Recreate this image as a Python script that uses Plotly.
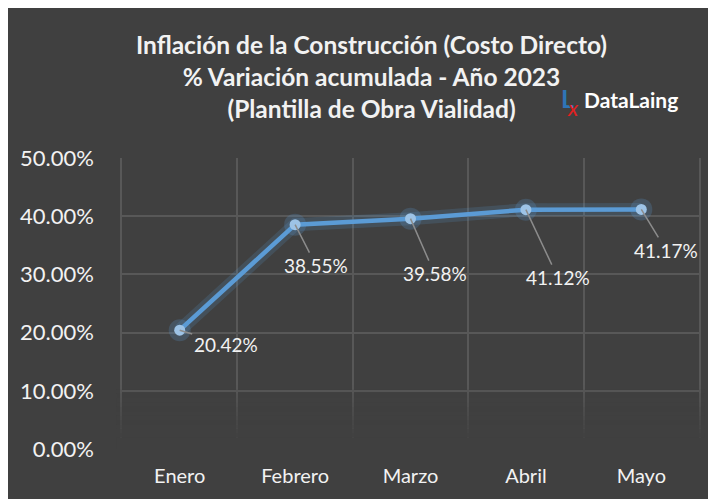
import plotly.graph_objects as go

months = ["Enero", "Febrero", "Marzo", "Abril", "Mayo"]
values = [20.42, 38.55, 39.58, 41.12, 41.17]
labels = ["20.42%", "38.55%", "39.58%", "41.12%", "41.17%"]
label_dx = [46, 21, 24, 32, 25]
label_dy = [14, 41, 55, 68, 41]
y_ticks = [0, 10, 20, 30, 40, 50]
y_ticktext = ["0.00%", "10.00%", "20.00%", "30.00%", "40.00%", "50.00%"]

FONT = "Lato"
PANEL = "#404040"
GRID = "#585858"

# page body adds an 8px offset; plot area geometry in figure coordinates
L, T, W, H = 109, 150, 582, 291


def px(x):
    return (x - L) / W


def py(y):
    return 1 + (T - y) / H


fig = go.Figure()
# glow
fig.add_trace(go.Scatter(x=months, y=values, mode="lines+markers",
                         line=dict(color="rgba(91,155,213,0.18)", width=13),
                         marker=dict(size=22, color="rgba(91,155,213,0.22)"),
                         hoverinfo="skip", showlegend=False))
fig.add_trace(go.Scatter(x=months, y=values, mode="lines+markers",
                         line=dict(color="#5B9BD5", width=4.5),
                         marker=dict(size=11, color="#9DC3E6"),
                         showlegend=False))

for m, v, t, dx, dy in zip(months, values, labels, label_dx, label_dy):
    fig.add_annotation(x=m, y=v, text=t, showarrow=True, ax=dx, ay=dy,
                       arrowhead=0, arrowwidth=1.5, arrowcolor="#8c8c8c",
                       font=dict(family=FONT, size=19, color="#f2f2f2"))

# fade of gridlines near the bottom
fig.add_shape(type="rect", xref="paper", yref="y", x0=-0.01, x1=1.01,
              y0=-1, y1=2, line=dict(width=0), fillcolor=PANEL, layer="above")
n = 12
for i in range(n):
    y0 = 2 + i * 9 / n
    fig.add_shape(type="rect", xref="paper", yref="y", x0=-0.01, x1=1.01,
                  y0=y0, y1=y0 + 9 / n, line=dict(width=0),
                  fillcolor=PANEL, opacity=max(0.0, 1 - (i + 0.5) / n),
                  layer="above")

fig.add_annotation(xref="paper", yref="paper", x=px(361), y=py(68),
                   xanchor="center", yanchor="middle",
                   text="<b>Inflación de la Construcción (Costo Directo)<br>% Variación acumulada - Año 2023<br>(Plantilla de Obra Vialidad)</b>",
                   showarrow=False, align="center",
                   font=dict(family=FONT, size=24.5, color="#f2f2f2"))

# logo
fig.add_annotation(xref="paper", yref="paper", x=px(558), y=py(90),
                   xanchor="center", yanchor="middle",
                   text="<b>L</b>", showarrow=False,
                   font=dict(family=FONT, size=25, color="#2E75B6"))
fig.add_annotation(xref="paper", yref="paper", x=px(564), y=py(100),
                   xanchor="center", yanchor="middle",
                   text="<i>x</i>", showarrow=False,
                   font=dict(family=FONT, size=22, color="#E02020"))
fig.add_annotation(xref="paper", yref="paper", x=px(573), y=py(91),
                   xanchor="left", yanchor="middle",
                   text="<b>DataLaing</b>", showarrow=False,
                   font=dict(family=FONT, size=21, color="#ffffff"))

fig.update_layout(
    width=716, height=499,
    margin=dict(l=L, r=716 - L - W, t=T, b=499 - T - H),
    paper_bgcolor=PANEL,
    plot_bgcolor=PANEL,
    font=dict(family=FONT, color="#f2f2f2"),
    xaxis=dict(type="category", tickson="boundaries", showgrid=True,
               gridcolor=GRID, gridwidth=1.5, ticks="",
               tickfont=dict(size=20, color="#f2f2f2"),
               ticklabelstandoff=13, zeroline=False, showline=False,
               range=[-0.5, 4.5]),
    yaxis=dict(range=[0, 50], tickvals=y_ticks, ticktext=y_ticktext,
               showgrid=True, gridcolor=GRID, gridwidth=1.5,
               showline=True, mirror=True, linecolor=GRID, linewidth=1.5,
               tickfont=dict(size=22, color="#f2f2f2"),
               ticklabelstandoff=22, zeroline=False),
)

fig.write_html("out.html")
